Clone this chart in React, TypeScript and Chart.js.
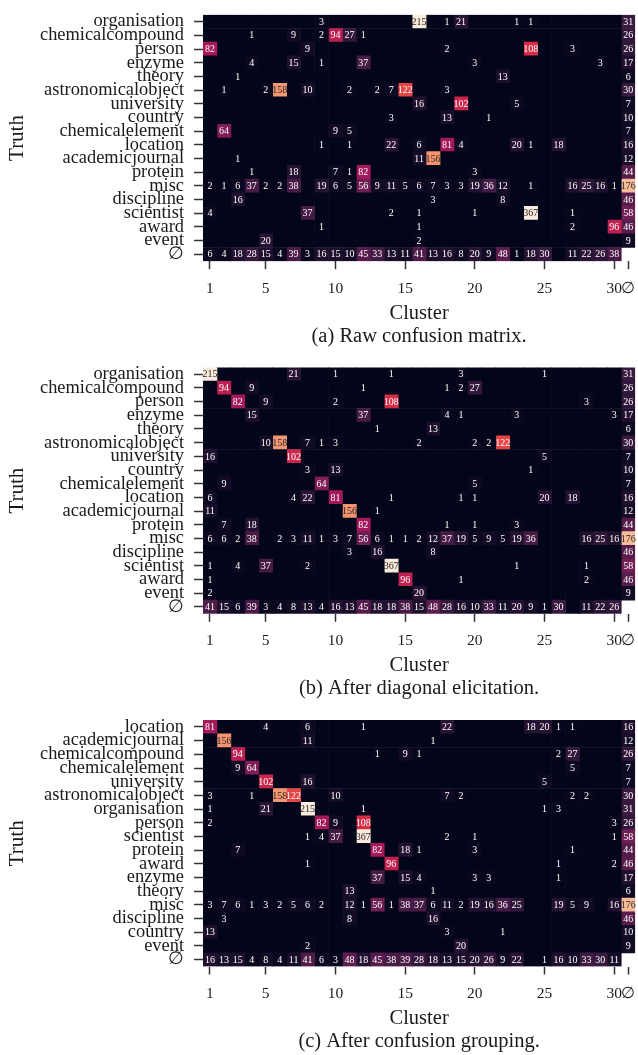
import React, { useEffect, useRef } from 'react';
import { Chart, registerables } from 'chart.js';

Chart.register(...registerables);

const FONT = "'Liberation Serif', 'DejaVu Serif', 'Times New Roman', serif";
const EMPTY = '∅';

// x axis: clusters 1..30 plus the ∅ column (position 31)
const clusterTicks = [1, 5, 10, 15, 20, 25, 30, 31];
const CLUSTER_COUNT = 31;
const COLOR_MAX = 200;

const rowsRaw = ['organisation', 'chemicalcompound', 'person', 'enzyme', 'theory', 'astronomicalobject', 'university', 'country', 'chemicalelement', 'location', 'academicjournal', 'protein', 'misc', 'discipline', 'scientist', 'award', 'event', EMPTY];
const rowsDiag = ['organisation', 'chemicalcompound', 'person', 'enzyme', 'theory', 'astronomicalobject', 'university', 'country', 'chemicalelement', 'location', 'academicjournal', 'protein', 'misc', 'discipline', 'scientist', 'award', 'event', EMPTY];
const rowsGroup = ['location', 'academicjournal', 'chemicalcompound', 'chemicalelement', 'university', 'astronomicalobject', 'organisation', 'person', 'scientist', 'protein', 'award', 'enzyme', 'theory', 'misc', 'discipline', 'country', 'event', EMPTY];

// (a) Raw confusion matrix: columns 1..30, then ∅
const matRaw: (number | null)[][] = [
  [0, 0, 0, 0, 0, 0, 0, 0, 3, 0, 0, 0, 0, 0, 0, 215, 0, 1, 21, 0, 0, 0, 1, 1, 0, 0, 0, 0, 0, 0, 31],
  [0, 0, 0, 1, 0, 0, 9, 0, 2, 94, 27, 1, 0, 0, 0, 0, 0, 0, 0, 0, 0, 0, 0, 0, 0, 0, 0, 0, 0, 0, 26],
  [82, 0, 0, 0, 0, 0, 0, 9, 0, 0, 0, 0, 0, 0, 0, 0, 0, 2, 0, 0, 0, 0, 0, 108, 0, 0, 3, 0, 0, 0, 26],
  [0, 0, 0, 4, 0, 0, 15, 0, 1, 0, 0, 37, 0, 0, 0, 0, 0, 0, 0, 3, 0, 0, 0, 0, 0, 0, 0, 0, 3, 0, 17],
  [0, 0, 1, 0, 0, 0, 0, 0, 0, 0, 0, 0, 0, 0, 0, 0, 0, 0, 0, 0, 0, 13, 0, 0, 0, 0, 0, 0, 0, 0, 6],
  [0, 1, 0, 0, 2, 158, 0, 10, 0, 0, 2, 0, 2, 7, 122, 0, 0, 3, 0, 0, 0, 0, 0, 0, 0, 0, 0, 0, 0, 0, 30],
  [0, 0, 0, 0, 0, 0, 0, 0, 0, 0, 0, 0, 0, 0, 0, 16, 0, 0, 102, 0, 0, 0, 5, 0, 0, 0, 0, 0, 0, 0, 7],
  [0, 0, 0, 0, 0, 0, 0, 0, 0, 0, 0, 0, 0, 3, 0, 0, 0, 13, 0, 0, 1, 0, 0, 0, 0, 0, 0, 0, 0, 0, 10],
  [0, 64, 0, 0, 0, 0, 0, 0, 0, 9, 5, 0, 0, 0, 0, 0, 0, 0, 0, 0, 0, 0, 0, 0, 0, 0, 0, 0, 0, 0, 7],
  [0, 0, 0, 0, 0, 0, 0, 0, 1, 0, 1, 0, 0, 22, 0, 6, 0, 81, 4, 0, 0, 0, 20, 1, 0, 18, 0, 0, 0, 0, 16],
  [0, 0, 1, 0, 0, 0, 0, 0, 0, 0, 0, 0, 0, 0, 0, 11, 156, 0, 0, 0, 0, 0, 0, 0, 0, 0, 0, 0, 0, 0, 12],
  [0, 0, 0, 1, 0, 0, 18, 0, 0, 7, 1, 82, 0, 0, 0, 0, 0, 0, 0, 3, 0, 0, 0, 0, 0, 0, 0, 0, 0, 0, 44],
  [2, 1, 6, 37, 2, 2, 38, 0, 19, 6, 5, 56, 9, 11, 5, 6, 7, 3, 3, 19, 36, 12, 0, 1, 0, 0, 16, 25, 16, 1, 176],
  [0, 0, 16, 0, 0, 0, 0, 0, 0, 0, 0, 0, 0, 0, 0, 0, 3, 0, 0, 0, 0, 8, 0, 0, 0, 0, 0, 0, 0, 0, 46],
  [4, 0, 0, 0, 0, 0, 0, 37, 0, 0, 0, 0, 0, 2, 0, 1, 0, 0, 0, 1, 0, 0, 0, 367, 0, 0, 1, 0, 0, 0, 58],
  [0, 0, 0, 0, 0, 0, 0, 0, 1, 0, 0, 0, 0, 0, 0, 1, 0, 0, 0, 0, 0, 0, 0, 0, 0, 0, 2, 0, 0, 96, 46],
  [0, 0, 0, 0, 20, 0, 0, 0, 0, 0, 0, 0, 0, 0, 0, 2, 0, 0, 0, 0, 0, 0, 0, 0, 0, 0, 0, 0, 0, 0, 9],
  [6, 4, 18, 28, 15, 4, 39, 3, 16, 15, 10, 45, 33, 13, 11, 41, 13, 16, 8, 20, 9, 48, 1, 18, 30, 0, 11, 22, 26, 38, null],
];

// (b) After diagonal elicitation
const matDiag: (number | null)[][] = [
  [215, 0, 0, 0, 0, 0, 21, 0, 0, 1, 0, 0, 0, 1, 0, 0, 0, 0, 3, 0, 0, 0, 0, 0, 1, 0, 0, 0, 0, 0, 31],
  [0, 94, 0, 9, 0, 0, 0, 0, 0, 0, 0, 1, 0, 0, 0, 0, 0, 1, 2, 27, 0, 0, 0, 0, 0, 0, 0, 0, 0, 0, 26],
  [0, 0, 82, 0, 9, 0, 0, 0, 0, 2, 0, 0, 0, 108, 0, 0, 0, 0, 0, 0, 0, 0, 0, 0, 0, 0, 0, 3, 0, 0, 26],
  [0, 0, 0, 15, 0, 0, 0, 0, 0, 0, 0, 37, 0, 0, 0, 0, 0, 4, 1, 0, 0, 0, 3, 0, 0, 0, 0, 0, 0, 3, 17],
  [0, 0, 0, 0, 0, 0, 0, 0, 0, 0, 0, 0, 1, 0, 0, 0, 13, 0, 0, 0, 0, 0, 0, 0, 0, 0, 0, 0, 0, 0, 6],
  [0, 0, 0, 0, 10, 158, 0, 7, 1, 3, 0, 0, 0, 0, 0, 2, 0, 0, 0, 2, 2, 122, 0, 0, 0, 0, 0, 0, 0, 0, 30],
  [16, 0, 0, 0, 0, 0, 102, 0, 0, 0, 0, 0, 0, 0, 0, 0, 0, 0, 0, 0, 0, 0, 0, 0, 5, 0, 0, 0, 0, 0, 7],
  [0, 0, 0, 0, 0, 0, 0, 3, 0, 13, 0, 0, 0, 0, 0, 0, 0, 0, 0, 0, 0, 0, 0, 1, 0, 0, 0, 0, 0, 0, 10],
  [0, 9, 0, 0, 0, 0, 0, 0, 64, 0, 0, 0, 0, 0, 0, 0, 0, 0, 0, 5, 0, 0, 0, 0, 0, 0, 0, 0, 0, 0, 7],
  [6, 0, 0, 0, 0, 0, 4, 22, 0, 81, 0, 0, 0, 1, 0, 0, 0, 0, 1, 1, 0, 0, 0, 0, 20, 0, 18, 0, 0, 0, 16],
  [11, 0, 0, 0, 0, 0, 0, 0, 0, 0, 156, 0, 1, 0, 0, 0, 0, 0, 0, 0, 0, 0, 0, 0, 0, 0, 0, 0, 0, 0, 12],
  [0, 7, 0, 18, 0, 0, 0, 0, 0, 0, 0, 82, 0, 0, 0, 0, 0, 1, 0, 1, 0, 0, 3, 0, 0, 0, 0, 0, 0, 0, 44],
  [6, 6, 2, 38, 0, 2, 3, 11, 1, 3, 7, 56, 6, 1, 1, 2, 12, 37, 19, 5, 9, 5, 19, 36, 0, 0, 0, 16, 25, 16, 176],
  [0, 0, 0, 0, 0, 0, 0, 0, 0, 0, 3, 0, 16, 0, 0, 0, 8, 0, 0, 0, 0, 0, 0, 0, 0, 0, 0, 0, 0, 0, 46],
  [1, 0, 4, 0, 37, 0, 0, 2, 0, 0, 0, 0, 0, 367, 0, 0, 0, 0, 0, 0, 0, 0, 1, 0, 0, 0, 0, 1, 0, 0, 58],
  [1, 0, 0, 0, 0, 0, 0, 0, 0, 0, 0, 0, 0, 0, 96, 0, 0, 0, 1, 0, 0, 0, 0, 0, 0, 0, 0, 2, 0, 0, 46],
  [2, 0, 0, 0, 0, 0, 0, 0, 0, 0, 0, 0, 0, 0, 0, 20, 0, 0, 0, 0, 0, 0, 0, 0, 0, 0, 0, 0, 0, 0, 9],
  [41, 15, 6, 39, 3, 4, 8, 13, 4, 16, 13, 45, 18, 18, 38, 15, 48, 28, 16, 10, 33, 11, 20, 9, 1, 30, 0, 11, 22, 26, null],
];

// (c) After confusion grouping
const matGroup: (number | null)[][] = [
  [81, 0, 0, 0, 4, 0, 0, 6, 0, 0, 0, 1, 0, 0, 0, 0, 0, 22, 0, 0, 0, 0, 0, 18, 20, 1, 1, 0, 0, 0, 16],
  [0, 156, 0, 0, 0, 0, 0, 11, 0, 0, 0, 0, 0, 0, 0, 0, 1, 0, 0, 0, 0, 0, 0, 0, 0, 0, 0, 0, 0, 0, 12],
  [0, 0, 94, 0, 0, 0, 0, 0, 0, 0, 0, 0, 1, 0, 9, 1, 0, 0, 0, 0, 0, 0, 0, 0, 0, 2, 27, 0, 0, 0, 26],
  [0, 0, 9, 64, 0, 0, 0, 0, 0, 0, 0, 0, 0, 0, 0, 0, 0, 0, 0, 0, 0, 0, 0, 0, 0, 0, 5, 0, 0, 0, 7],
  [0, 0, 0, 0, 102, 0, 0, 16, 0, 0, 0, 0, 0, 0, 0, 0, 0, 0, 0, 0, 0, 0, 0, 0, 5, 0, 0, 0, 0, 0, 7],
  [3, 0, 0, 1, 0, 158, 122, 0, 0, 10, 0, 0, 0, 0, 0, 0, 0, 7, 2, 0, 0, 0, 0, 0, 0, 0, 2, 2, 0, 0, 30],
  [1, 0, 0, 0, 21, 0, 0, 215, 0, 0, 0, 1, 0, 0, 0, 0, 0, 0, 0, 0, 0, 0, 0, 0, 1, 3, 0, 0, 0, 0, 31],
  [2, 0, 0, 0, 0, 0, 0, 0, 82, 9, 0, 108, 0, 0, 0, 0, 0, 0, 0, 0, 0, 0, 0, 0, 0, 0, 0, 0, 0, 3, 26],
  [0, 0, 0, 0, 0, 0, 0, 1, 4, 37, 0, 367, 0, 0, 0, 0, 0, 2, 0, 1, 0, 0, 0, 0, 0, 0, 0, 0, 0, 1, 58],
  [0, 0, 7, 0, 0, 0, 0, 0, 0, 0, 0, 0, 82, 0, 18, 1, 0, 0, 0, 3, 0, 0, 0, 0, 0, 0, 1, 0, 0, 0, 44],
  [0, 0, 0, 0, 0, 0, 0, 1, 0, 0, 0, 0, 0, 96, 0, 0, 0, 0, 0, 0, 0, 0, 0, 0, 0, 1, 0, 0, 0, 2, 46],
  [0, 0, 0, 0, 0, 0, 0, 0, 0, 0, 0, 0, 37, 0, 15, 4, 0, 0, 0, 3, 3, 0, 0, 0, 0, 1, 0, 0, 0, 0, 17],
  [0, 0, 0, 0, 0, 0, 0, 0, 0, 0, 13, 0, 0, 0, 0, 0, 1, 0, 0, 0, 0, 0, 0, 0, 0, 0, 0, 0, 0, 0, 6],
  [3, 7, 6, 1, 3, 2, 5, 6, 2, 0, 12, 1, 56, 1, 38, 37, 6, 11, 2, 19, 16, 36, 25, 0, 0, 19, 5, 9, 0, 16, 176],
  [0, 3, 0, 0, 0, 0, 0, 0, 0, 0, 8, 0, 0, 0, 0, 0, 16, 0, 0, 0, 0, 0, 0, 0, 0, 0, 0, 0, 0, 0, 46],
  [13, 0, 0, 0, 0, 0, 0, 0, 0, 0, 0, 0, 0, 0, 0, 0, 0, 3, 0, 0, 0, 1, 0, 0, 0, 0, 0, 0, 0, 0, 10],
  [0, 0, 0, 0, 0, 0, 0, 2, 0, 0, 0, 0, 0, 0, 0, 0, 0, 0, 20, 0, 0, 0, 0, 0, 0, 0, 0, 0, 0, 0, 9],
  [16, 13, 15, 4, 8, 4, 11, 41, 6, 3, 48, 18, 45, 38, 39, 28, 18, 13, 15, 20, 26, 9, 22, 0, 1, 16, 10, 33, 30, 11, null],
];

const captionRaw = '(a) Raw confusion matrix.';
const captionDiag = '(b) After diagonal elicitation.';
const captionGroup = '(c) After confusion grouping.';

// seaborn "rocket" colormap anchors
const ROCKET = ['#03051A', '#35193E', '#701F57', '#AD1759', '#E13342', '#F37651', '#F6B48F', '#FAEBDD'];

function hexToRgb(h: string): number[] {
  return [parseInt(h.slice(1, 3), 16), parseInt(h.slice(3, 5), 16), parseInt(h.slice(5, 7), 16)];
}
const ROCKET_RGB = ROCKET.map(hexToRgb);

function rocketRgb(t: number): number[] {
  const tt = Math.max(0, Math.min(1, t)) * (ROCKET_RGB.length - 1);
  const i = Math.min(Math.floor(tt), ROCKET_RGB.length - 2);
  const f = tt - i;
  const a = ROCKET_RGB[i];
  const b = ROCKET_RGB[i + 1];
  return [0, 1, 2].map((k) => Math.round(a[k] + (b[k] - a[k]) * f));
}
function rgbStr(c: number[]) {
  return `rgb(${c[0]},${c[1]},${c[2]})`;
}
function luminance(c: number[]) {
  const f = (v: number) => {
    const s = v / 255;
    return s <= 0.03928 ? s / 12.92 : Math.pow((s + 0.055) / 1.055, 2.4);
  };
  return 0.2126 * f(c[0]) + 0.7152 * f(c[1]) + 0.0722 * f(c[2]);
}

const cellText = {
  id: 'cellText',
  afterDatasetsDraw(chart: any) {
    const ctx = chart.ctx;
    ctx.save();
    ctx.font = `10px ${FONT}`;
    ctx.textAlign = 'center';
    ctx.textBaseline = 'middle';
    chart.data.datasets.forEach((ds: any, di: number) => {
      const meta = chart.getDatasetMeta(di);
      meta.data.forEach((el: any, ri: number) => {
        const v = ds.values[ri];
        if (!v) return;
        const p = el.getCenterPoint();
        const col = rocketRgb(v / COLOR_MAX);
        ctx.fillStyle = luminance(col) > 0.408 ? '#262626' : '#ffffff';
        ctx.fillText(String(v), p.x, p.y + 0.5);
      });
    });
    ctx.restore();
  },
};

const CANVAS_W = 638;
const CANVAS_H = 350;
const AREA_LEFT = 203;
const AREA_RIGHT = 635.2;
const AREA_H = 246.4;

type HeatmapProps = {
  rows: string[];
  matrix: (number | null)[][];
  caption: string;
  top: number;
  padTop: number;
};

function Heatmap({ rows, matrix, caption, top, padTop }: HeatmapProps) {
  const ref = useRef<HTMLCanvasElement>(null);
  useEffect(() => {
    const canvas = ref.current;
    if (!canvas) return;
    const datasets: any[] = [];
    for (let c = 0; c < CLUSTER_COUNT; c++) {
      const values = matrix.map((row) => row[c]);
      datasets.push({
        label: c === CLUSTER_COUNT - 1 ? EMPTY : String(c + 1),
        data: values.map((v) => (v === null ? null : [c + 0.5, c + 1.5])),
        values,
        backgroundColor: values.map((v) => rgbStr(rocketRgb((v ?? 0) / COLOR_MAX))),
        borderWidth: 0,
        grouped: false,
        barPercentage: 1,
        categoryPercentage: 1,
      });
    }
    const xHeight = CANVAS_H - padTop - AREA_H;
    const chart = new Chart(canvas, {
      type: 'bar',
      data: { labels: rows, datasets },
      options: {
        indexAxis: 'y',
        responsive: false,
        animation: false,
        devicePixelRatio: 1,
        layout: { padding: { top: padTop, left: 0, right: CANVAS_W - AREA_RIGHT, bottom: 0 } },
        plugins: {
          legend: { display: false },
          tooltip: { enabled: false },
          title: { display: false },
        },
        scales: {
          x: {
            type: 'linear',
            position: 'bottom',
            min: 0.5,
            max: CLUSTER_COUNT + 0.5,
            beginAtZero: false,
            afterBuildTicks: (s: any) => {
              s.ticks = clusterTicks.map((v) => ({ value: v }));
            },
            afterFit: (s: any) => {
              s.height = xHeight;
              s.paddingLeft = 0;
              s.paddingRight = 0;
              s.paddingTop = 0;
              s.paddingBottom = 0;
            },
            ticks: {
              autoSkip: false,
              maxRotation: 0,
              minRotation: 0,
              padding: 10,
              color: '#1a1a1a',
              font: { family: FONT, size: 15.5 },
              callback: (v: any) => (v === CLUSTER_COUNT ? EMPTY : String(v)),
            },
            grid: {
              display: true,
              drawOnChartArea: false,
              drawTicks: true,
              tickLength: 8,
              tickColor: '#333333',
              tickWidth: 1.5,
            },
            border: { display: false },
            title: {
              display: true,
              text: ['Cluster', caption],
              color: '#1a1a1a',
              font: { family: FONT, size: 20.5, lineHeight: 1.1 },
              padding: { top: 0, bottom: 2.5 },
            },
          },
          y: {
            type: 'category',
            offset: true,
            afterFit: (s: any) => {
              s.width = AREA_LEFT;
              s.paddingTop = 0;
              s.paddingBottom = 0;
              s.paddingLeft = 0;
              s.paddingRight = 0;
            },
            ticks: {
              autoSkip: false,
              padding: 10,
              color: '#1a1a1a',
              font: { family: FONT, size: 18.4 },
            },
            grid: {
              display: true,
              offset: false,
              drawOnChartArea: false,
              drawTicks: true,
              tickLength: 9,
              tickColor: '#333333',
              tickWidth: 1.5,
            },
            border: { display: false },
            title: {
              display: true,
              text: 'Truth',
              color: '#1a1a1a',
              font: { family: FONT, size: 21, lineHeight: 1.2 },
              padding: { top: 5, bottom: 0 },
            },
          },
        },
      } as any,
      plugins: [cellText as any],
    });
    return () => chart.destroy();
  }, [rows, matrix, caption, padTop]);
  return (
    <canvas
      ref={ref}
      width={CANVAS_W}
      height={CANVAS_H}
      style={{ position: 'absolute', left: 0, top, width: CANVAS_W, height: CANVAS_H, display: 'block' }}
    />
  );
}

export default function App() {
  return (
    <div style={{ position: 'absolute', left: 0, top: 0, width: 638, height: 1055, overflow: 'hidden', background: '#ffffff' }}>
      <Heatmap rows={rowsRaw} matrix={matRaw} caption={captionRaw} top={0} padTop={14.8} />
      <Heatmap rows={rowsDiag} matrix={matDiag} caption={captionDiag} top={352} padTop={15.4} />
      <Heatmap rows={rowsGroup} matrix={matGroup} caption={captionGroup} top={705} padTop={15.1} />
    </div>
  );
}
